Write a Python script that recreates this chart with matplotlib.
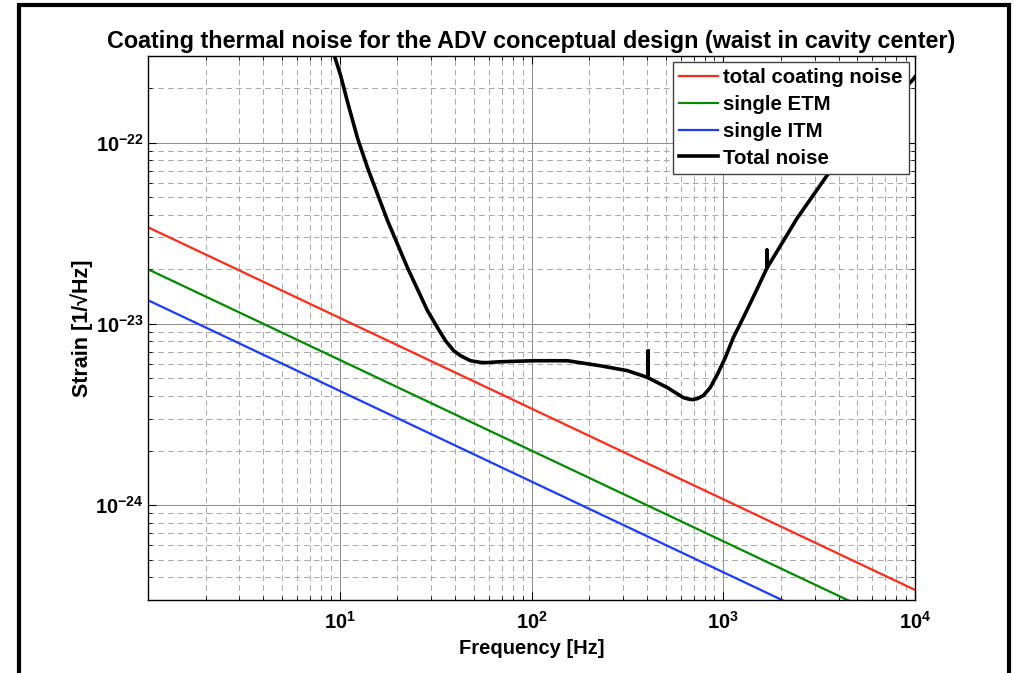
import numpy as np
import matplotlib
matplotlib.use("Agg")
import matplotlib.pyplot as plt
from matplotlib.patches import Rectangle
from matplotlib.ticker import LogLocator, NullFormatter

# noise curves (frequency in Hz, strain in 1/sqrt(Hz))
freq_coat = [1.0, 1.0e4]
total_coating = [3.41e-23, 3.41e-25]
single_etm = [2.0e-23, 2.0e-25]
single_itm = [1.35e-23, 1.35e-25]

freq_total = [9.0, 9.31, 10.1, 11.0, 12.4, 14.0, 17.8, 22.6, 28.7, 32.4, 35.6,
              39.3, 42.7, 48.1, 54.2, 57.6, 68.9, 102, 154, 229, 316, 400, 406,
              406, 406, 412, 511, 562, 619, 658, 690, 733, 787, 855, 931, 1024,
              1127, 1271, 1468, 1690, 1690, 1690, 2427, 3480, 5834, 9640, 1.0e4]
strain_total = [3.5e-22, 3.08e-22, 2.35e-22, 1.66e-22, 1.05e-22, 7.2e-23,
                3.68e-23, 2.03e-23, 1.18e-23, 9.5e-24, 8.07e-24, 7.11e-24,
                6.67e-24, 6.26e-24, 6.13e-24, 6.11e-24, 6.18e-24, 6.26e-24,
                6.26e-24, 5.87e-24, 5.52e-24, 5.08e-24, 5.05e-24, 7.1e-24,
                5.05e-24, 5.0e-24, 4.45e-24, 4.18e-24, 3.92e-24, 3.85e-24,
                3.82e-24, 3.87e-24, 4.02e-24, 4.45e-24, 5.25e-24, 6.5e-24,
                8.37e-24, 1.08e-23, 1.48e-23, 2.03e-23, 2.55e-23, 2.03e-23,
                3.82e-23, 6.59e-23, 1.27e-22, 2.19e-22, 2.3e-22]

x_ticks = [1e1, 1e2, 1e3, 1e4]

plt.rcParams['font.family'] = ['Liberation Sans', 'DejaVu Sans']
plt.rcParams['font.weight'] = 'bold'
plt.rcParams['mathtext.fontset'] = 'custom'
plt.rcParams['mathtext.rm'] = 'Liberation Sans:bold'
plt.rcParams['mathtext.bf'] = 'Liberation Sans:bold'
plt.rcParams['mathtext.default'] = 'bf'

fig = plt.figure(figsize=(10.14, 6.73), dpi=100)
ax = fig.add_axes([148 / 1014, 1 - 600 / 673, 767 / 1014, 544 / 673])

ax.loglog(freq_coat, total_coating, color='#ff2a1a', lw=1.6, label='total coating noise')
ax.loglog(freq_coat, single_etm, color='#008a00', lw=1.6, label='single ETM')
ax.loglog(freq_coat, single_itm, color='#1a3cff', lw=1.6, label='single ITM')
ax.loglog(freq_total, strain_total, color='black', lw=2.6, label='Total noise',
          solid_joinstyle='round')

ax.set_xlim(1, 1e4)
ax.set_ylim(3.0e-25, 3.0e-22)
ax.set_xticks(x_ticks)
ax.xaxis.set_minor_locator(LogLocator(base=10, subs=np.arange(2, 10), numticks=50))
ax.yaxis.set_minor_locator(LogLocator(base=10, subs=np.arange(2, 10), numticks=50))
ax.xaxis.set_minor_formatter(NullFormatter())
ax.yaxis.set_minor_formatter(NullFormatter())

ax.grid(True, which='major', color='#8c8c8c', lw=0.7, ls='-')
ax.grid(True, which='minor', color='#a8a8a8', lw=0.7, ls=(0, (6, 4)))
ax.tick_params(which='both', direction='in', top=True, right=True, labelsize=14.5)
ax.tick_params(which='major', length=6, width=0.8)
ax.tick_params(axis='x', which='major', pad=8)
ax.tick_params(axis='y', which='major', pad=3)
ax.tick_params(which='minor', length=3, width=0.6)
for s in ax.spines.values():
    s.set_linewidth(1.0)

ax.set_xlabel('Frequency [Hz]', fontsize=14.5, fontweight='bold', labelpad=4)
ax.set_ylabel('Strain [1/\u221aHz]', fontsize=15.5, fontweight='bold', labelpad=2)
ax.set_title('Coating thermal noise for the ADV conceptual design (waist in cavity center)',
             fontsize=16.8, fontweight='bold', pad=6)

leg = ax.legend(loc='upper right', fontsize=14.7, fancybox=False, framealpha=1,
                edgecolor='#404040', handlelength=1.9, handletextpad=0.25,
                borderaxespad=0.3, labelspacing=0.38, borderpad=0.3)
leg.get_frame().set_linewidth(1.0)

# outer frame of the screenshot
fig.patches.append(Rectangle((19 / 1014, -0.1), 990 / 1014, 1.1 - 5 / 673,
                             transform=fig.transFigure, fill=False,
                             lw=3, ec='black', clip_on=False))

fig.savefig('out.png', dpi=100)
